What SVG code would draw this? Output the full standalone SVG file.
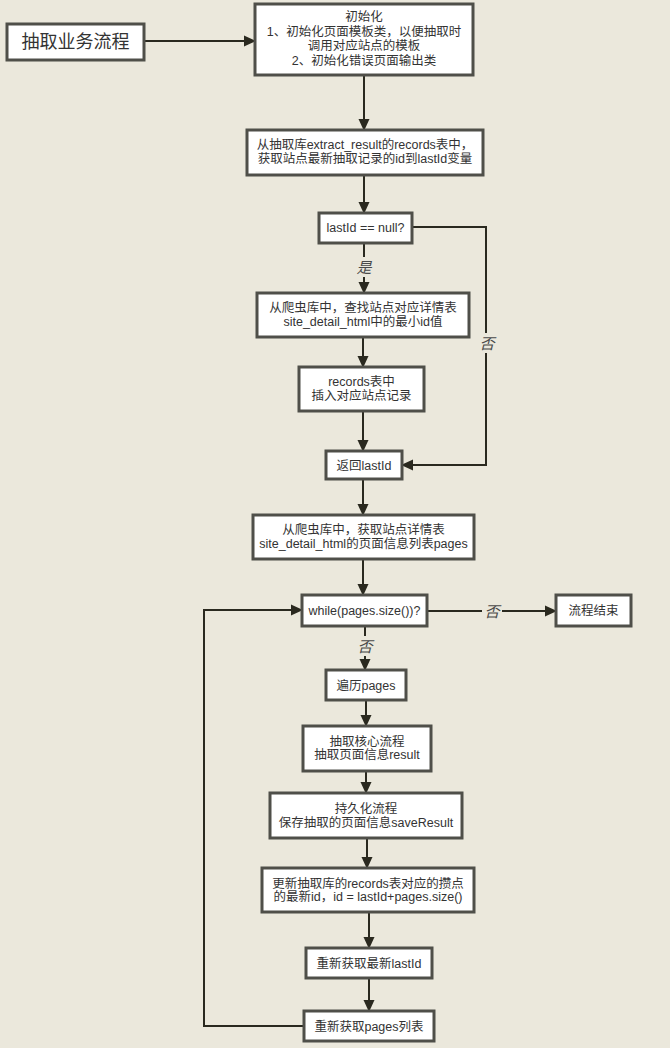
<svg xmlns="http://www.w3.org/2000/svg" width="670" height="1048" viewBox="0 0 670 1048">
<style>
.bg{fill:#ebe8dc}
.box{fill:#ffffff;stroke:#4f4f49;stroke-width:3}
.t{font-family:"Liberation Sans","Noto Sans CJK SC",sans-serif;font-size:12.5px;fill:#333333;text-anchor:middle}
.title{font-size:18px}
.edge{fill:none;stroke:#2a291f;stroke-width:2}
.lbl{font-family:"Liberation Sans","Noto Sans CJK SC",sans-serif;font-size:15px;font-style:italic;fill:#4a4a4a;text-anchor:middle}
.lblbg{fill:#ebe8dc}
</style>
<defs>
<marker id="arr" markerUnits="userSpaceOnUse" markerWidth="12" markerHeight="12" viewBox="0 0 12 12" refX="11" refY="6" orient="auto">
<path d="M0,0.5 L12,6 L0,11.5 Z" fill="#2a291f"/>
</marker>
</defs>
<rect class="bg" x="0" y="0" width="670" height="1048"/>
<g id="connectors">
<path class="edge" d="M144,41 L255,41" marker-end="url(#arr)"/>
<path class="edge" d="M364,75 L364,130" marker-end="url(#arr)"/>
<path class="edge" d="M364,175 L364,213" marker-end="url(#arr)"/>
<path class="edge" d="M364,243 L364,293" marker-end="url(#arr)"/>
<path class="edge" d="M412,227 L486,227 L486,465 L402,465" marker-end="url(#arr)"/>
<path class="edge" d="M363,337 L363,367" marker-end="url(#arr)"/>
<path class="edge" d="M363,411 L363,451" marker-end="url(#arr)"/>
<path class="edge" d="M363,479 L363,515" marker-end="url(#arr)"/>
<path class="edge" d="M363,559 L363,595" marker-end="url(#arr)"/>
<path class="edge" d="M427,611 L556,611" marker-end="url(#arr)"/>
<path class="edge" d="M365,626 L365,670" marker-end="url(#arr)"/>
<path class="edge" d="M366,700 L366,726" marker-end="url(#arr)"/>
<path class="edge" d="M366,771 L366,793" marker-end="url(#arr)"/>
<path class="edge" d="M367,838 L367,868" marker-end="url(#arr)"/>
<path class="edge" d="M369,912 L369,948" marker-end="url(#arr)"/>
<path class="edge" d="M369,978 L369,1011" marker-end="url(#arr)"/>
<path class="edge" d="M304,1026 L204,1026 L204,610 L302,610" marker-end="url(#arr)"/>
<rect class="lblbg" x="355" y="257" width="18" height="20"/>
<text class="lbl" x="364" y="272.5">是</text>
<rect class="lblbg" x="478" y="333" width="18" height="20"/>
<text class="lbl" x="487" y="348.5">否</text>
<rect class="lblbg" x="482" y="601" width="20" height="20"/>
<text class="lbl" x="492" y="616.5">否</text>
<rect class="lblbg" x="356" y="636" width="18" height="20"/>
<text class="lbl" x="365" y="651.5">否</text>
</g>
<g id="n_start">
<rect class="box" x="7" y="24" width="137" height="36"/>
<text class="t title" x="75.5" y="48">抽取业务流程</text>
</g>
<g id="n_init">
<rect class="box" x="255" y="4" width="218" height="71"/>
<text class="t" x="364" y="21">初始化</text>
<text class="t" x="364" y="36">1、初始化页面模板类，以便抽取时</text>
<text class="t" x="364" y="50">调用对应站点的模板</text>
<text class="t" x="364" y="65">2、初始化错误页面输出类</text>
</g>
<g id="n_getlast">
<rect class="box" x="247" y="130" width="236" height="45"/>
<text class="t" x="365" y="149">从抽取库extract_result的records表中，</text>
<text class="t" x="365" y="162.5">获取站点最新抽取记录的id到lastId变量</text>
</g>
<g id="n_check">
<rect class="box" x="319" y="213" width="93" height="30"/>
<text class="t" x="365.5" y="232">lastId == null?</text>
</g>
<g id="n_findmin">
<rect class="box" x="257" y="293" width="212" height="44"/>
<text class="t" x="363" y="312">从爬虫库中，查找站点对应详情表</text>
<text class="t" x="363" y="326">site_detail_html中的最小id值</text>
</g>
<g id="n_insert">
<rect class="box" x="299" y="367" width="125" height="44"/>
<text class="t" x="361.5" y="386">records表中</text>
<text class="t" x="361.5" y="400">插入对应站点记录</text>
</g>
<g id="n_return">
<rect class="box" x="326" y="451" width="76" height="28"/>
<text class="t" x="364" y="469.5">返回lastId</text>
</g>
<g id="n_pages">
<rect class="box" x="253" y="515" width="221" height="44"/>
<text class="t" x="363.5" y="534">从爬虫库中，获取站点详情表</text>
<text class="t" x="363.5" y="548">site_detail_html的页面信息列表pages</text>
</g>
<g id="n_while">
<rect class="box" x="302" y="595" width="125" height="31"/>
<text class="t" x="364.5" y="615">while(pages.size())?</text>
</g>
<g id="n_end">
<rect class="box" x="556" y="595" width="75" height="31"/>
<text class="t" x="593.5" y="615">流程结束</text>
</g>
<g id="n_iterate">
<rect class="box" x="326" y="670" width="80" height="30"/>
<text class="t" x="366" y="689.5">遍历pages</text>
</g>
<g id="n_extract">
<rect class="box" x="303" y="726" width="128" height="45"/>
<text class="t" x="367" y="746">抽取核心流程</text>
<text class="t" x="367" y="759">抽取页面信息result</text>
</g>
<g id="n_persist">
<rect class="box" x="270" y="793" width="192" height="45"/>
<text class="t" x="366" y="812.5">持久化流程</text>
<text class="t" x="366" y="826.5">保存抽取的页面信息saveResult</text>
</g>
<g id="n_update">
<rect class="box" x="262" y="868" width="212" height="44"/>
<text class="t" x="368" y="887.5">更新抽取库的records表对应的攒点</text>
<text class="t" x="368" y="901">的最新id，id = lastId+pages.size()</text>
</g>
<g id="n_relast">
<rect class="box" x="306" y="948" width="126" height="30"/>
<text class="t" x="369" y="967.5">重新获取最新lastId</text>
</g>
<g id="n_repages">
<rect class="box" x="304" y="1011" width="130" height="30"/>
<text class="t" x="369" y="1030.5">重新获取pages列表</text>
</g>
</svg>
